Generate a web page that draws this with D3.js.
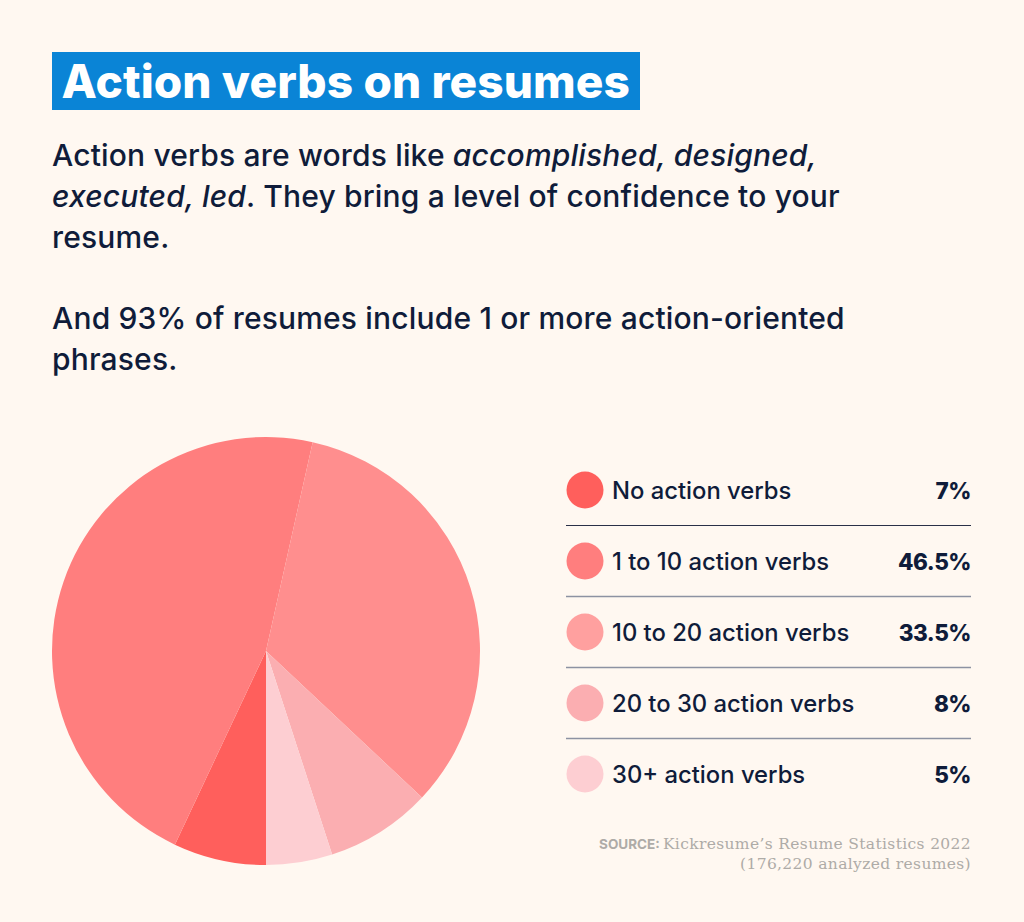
<!DOCTYPE html>
<html><head><meta charset="utf-8">
<script src="https://cdn.jsdelivr.net/npm/d3@7"></script>
<style>html,body{margin:0;padding:0;background:#fff8f1}svg{display:block}</style></head>
<body><script>
const categories=["No action verbs","1 to 10 action verbs","10 to 20 action verbs","20 to 30 action verbs","30+ action verbs"];
const values=[7,46.5,33.5,8,5];
const valueLabels=["7%","46.5%","33.5%","8%","5%"];
const colors=["#ff5f5c","#ff7e7e","#ff8e8e","#fbaeb1","#fdced2"];
const legendColors=["#ff5f5c","#ff7e7e","#ffa09f","#fbaeb1","#fdced2"];
const ruleColors=["#2a3148","#8d92a2","#8d92a2","#8d92a2"];
const svg=d3.select("body").append("svg").attr("width",1024).attr("height",922);
const ink="#0f1c3a",font="Inter, 'Noto Sans', sans-serif",serif="'DejaVu Serif', serif";
svg.append("rect").attr("width",1024).attr("height",922).attr("fill","#fff8f1");
svg.append("rect").attr("x",52).attr("y",52).attr("width",588).attr("height",58).attr("fill","#0a84d6");
svg.append("text").attr("x",61.5).attr("y",98).attr("font-family",font).attr("font-weight",800).attr("font-size",46).attr("letter-spacing",0.1).attr("fill","#fff").text("Action verbs on resumes");
const para=[[["Action verbs are words like ",0],["accomplished, designed,",1]],[["executed, led",1],[". They bring a level of confidence to your",0]],[["resume.",0]],[["And 93% of resumes include 1 or more action-oriented",0]],[["phrases.",0]]];
const ys=[166,207,248,329,370];
para.forEach((l,i)=>{const t=svg.append("text").attr("x",52).attr("y",ys[i]).attr("font-family",font).attr("font-weight",500).attr("font-size",30).attr("letter-spacing",0.17).attr("fill",ink);
l.forEach(s=>t.append("tspan").attr("font-style",s[1]?"italic":"normal").text(s[0]));});
const pie=d3.pie().sort(null).startAngle(Math.PI).endAngle(3*Math.PI).value(d=>d);
const arcs=pie(values);
const arc=d3.arc().innerRadius(0).outerRadius(214);
svg.append("g").attr("transform","translate(266,651)").selectAll("path").data(arcs).join("path").attr("d",arc).attr("fill",(d,i)=>colors[i]);
const rowY=d3.scalePoint().domain(categories).range([490,774]);
const rows=svg.append("g").selectAll("g").data(categories).join("g").attr("transform",d=>`translate(0,${rowY(d)})`);
rows.append("circle").attr("cx",585).attr("r",18.5).attr("fill",(d,i)=>legendColors[i]);
rows.append("text").attr("x",612).attr("y",9).attr("font-family",font).attr("font-weight",500).attr("font-size",23.8).attr("fill",ink).text(d=>d);
rows.append("text").attr("x",971).attr("y",8.5).attr("text-anchor","end").attr("font-family",font).attr("font-weight",800).attr("font-size",22.5).attr("letter-spacing",-0.5).attr("fill",ink).text((d,i)=>valueLabels[i]);
rows.filter((d,i)=>i<4).append("line").attr("x1",566).attr("x2",971).attr("y1",35.5).attr("y2",35.5).attr("stroke",(d,i)=>ruleColors[i]).attr("stroke-width",(d,i)=>i==0?1:1.4);
const s1=svg.append("text").attr("x",971).attr("y",849).attr("text-anchor","end").attr("fill","#aeaba7");
s1.append("tspan").attr("font-family",font).attr("font-weight",700).attr("font-size",13.5).text("SOURCE: ");
s1.append("tspan").attr("font-family",serif).attr("font-size",15.5).attr("letter-spacing",0.35).text("Kickresume’s Resume Statistics 2022");
svg.append("text").attr("x",971).attr("y",869).attr("text-anchor","end").attr("fill","#aeaba7").attr("font-family",serif).attr("font-size",15.5).attr("letter-spacing",0.35).text("(176,220 analyzed resumes)");
</script></body></html>
